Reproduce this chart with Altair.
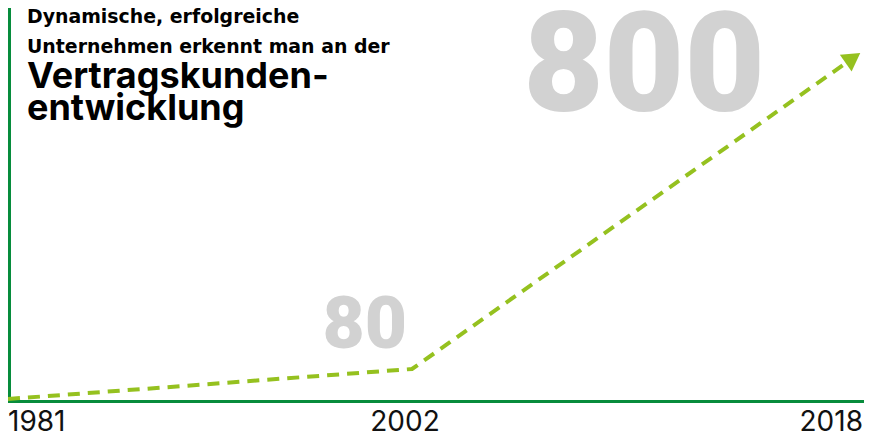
import altair as alt
import pandas as pd

# ---- data ----
jahre = [1981, 2002, 2018]
kunden = [0, 80, 800]
jahr_labels = ["1981", "2002", "2018"]
titel_klein = ["Dynamische, erfolgreiche", "Unternehmen erkennt man an der"]
titel_gross = ["Vertragskunden-", "entwicklung"]

df = pd.DataFrame({"Jahr": jahre, "Kunden": kunden, "Label": jahr_labels})

AXIS_GREEN = "#078c3c"
LINE_GREEN = "#95c11f"
GREY = "#d2d2d2"

W, H = 856, 425

# piecewise scales (the original graphic is not linear)
xs = alt.Scale(domain=jahre, range=[0, 404, 845])
ys = alt.Scale(domain=kunden, range=[391, 361, 50])
X = alt.X("Jahr:Q", scale=xs, axis=None)
Y = alt.Y("Kunden:Q", scale=ys, axis=None)

base = alt.Chart(df)
one = alt.Chart(pd.DataFrame({"k": [0]}))

axis_bottom = one.mark_rule(color=AXIS_GREEN, strokeWidth=3).encode(
    x=alt.value(0), x2=alt.value(W), y=alt.value(393.5)
)
axis_left = one.mark_rule(color=AXIS_GREEN, strokeWidth=3).encode(
    x=alt.value(1.5), y=alt.value(0), y2=alt.value(395)
)

line = base.mark_line(
    color=LINE_GREEN, strokeWidth=4, strokeDash=[12, 8], strokeCap="butt"
).encode(x=X, y=Y)

arrow = base.transform_filter("datum.Jahr == 2018").mark_point(
    shape="triangle-up", filled=True, size=420, angle=55,
    color=LINE_GREEN, opacity=1
).encode(x=X, y=Y)

num80 = base.transform_filter("datum.Jahr == 2002").mark_text(
    font="Roboto", fontWeight=900, fontSize=73, color=GREY,
    align="right", baseline="alphabetic", dx=-5, dy=-21
).encode(x=X, y=Y, text="Kunden:Q")

num800 = base.transform_filter("datum.Jahr == 2018").mark_text(
    font="Roboto", fontWeight=900, fontSize=139, color=GREY,
    align="right", baseline="alphabetic", dx=-88, dy=53
).encode(x=X, y=Y, text="Kunden:Q")

year_text = base.mark_text(
    font="Inter", fontSize=28, color="#111111", baseline="alphabetic",
    align=alt.expr("datum.Jahr == 1981 ? 'left' : datum.Jahr == 2018 ? 'right' : 'center'"),
    dx=alt.expr("datum.Jahr == 2018 ? 10 : datum.Jahr == 2002 ? -7 : 0"),
).encode(x=X, y=alt.value(423), text="Label:N")

title_layers = []
for txt, yb in zip(titel_klein, [15, 45]):
    title_layers.append(
        alt.Chart(pd.DataFrame({"t": [txt]})).mark_text(
            font="DejaVu Sans", fontWeight="bold", fontSize=18.9, color="#000000",
            align="left", baseline="alphabetic"
        ).encode(x=alt.value(19), y=alt.value(yb), text="t:N")
    )
for txt, yb in zip(titel_gross, [80, 112]):
    title_layers.append(
        alt.Chart(pd.DataFrame({"t": [txt]})).mark_text(
            font="Inter", fontWeight="bold", fontSize=36, color="#000000",
            align="left", baseline="alphabetic"
        ).encode(x=alt.value(19), y=alt.value(yb), text="t:N")
    )

chart = alt.layer(
    axis_bottom, axis_left, num800, num80, line, arrow, year_text, *title_layers
).properties(
    width=W, height=H,
    autosize=alt.AutoSizeParams(type="none"), padding=0
).configure_view(stroke=None)

chart.save("out.html", embed_options={"renderer": "svg", "actions": False})
